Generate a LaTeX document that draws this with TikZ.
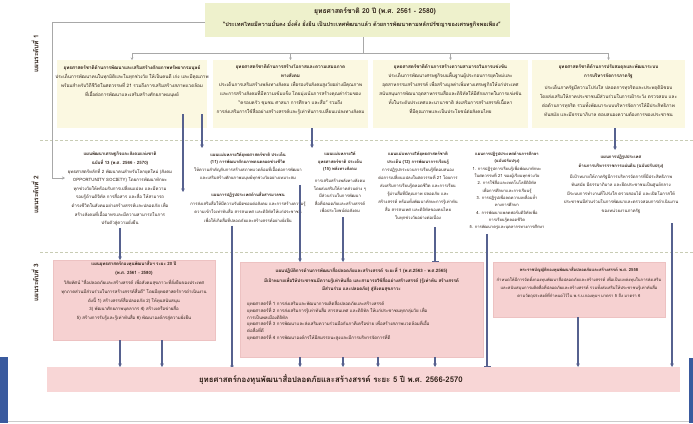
\documentclass[tikz,border=0pt]{standalone}
\usepackage{fontspec}
\setmainfont[Script=Thai]{Loma}
\usetikzlibrary{arrows.meta}
\definecolor{topfill}{HTML}{EEF1CC}
\definecolor{ylfill}{HTML}{FBF8E1}
\definecolor{pkfill}{HTML}{F6D1D1}
\definecolor{pkedge}{HTML}{EDC2C2}
\definecolor{botfill}{HTML}{F8D6D6}
\definecolor{conc}{HTML}{56618F}
\definecolor{grayc}{HTML}{A8A8A8}
\definecolor{sepc}{HTML}{C8CCB4}
\definecolor{ink}{HTML}{2A1C13}
\definecolor{bluebar}{HTML}{3A5A9E}
\begin{document}
\begin{tikzpicture}[x=1pt,y=-1pt,
  box/.style={inner sep=0, outer sep=0},
  ybox/.style={box, fill=ylfill},
  pbox/.style={box, fill=pkfill, draw=pkedge, line width=0.6pt},
  tx/.style={inner sep=0, align=center, text=ink, font=\fontsize{4.6}{9}\selectfont},
  txl/.style={inner sep=0, align=left, text=ink, font=\fontsize{4.4}{6.7}\selectfont},
  lvl/.style={inner sep=0, rotate=90, text=ink, font=\bfseries\fontsize{6.5}{7}\selectfont},
  conn/.style={draw=conc, line width=1.1pt},
  arr/.style={conn, -{Stealth[length=3.5pt,width=3.5pt]}},
  bar/.style={conn, -{Bar[width=7pt,line width=1.1pt]}},
  gline/.style={draw=grayc, line width=0.8pt},
  sep/.style={draw=sepc, line width=0.8pt, dash pattern=on 3pt off 2pt}
]
\useasboundingbox (0,0) rectangle (693,423);
\fill[white] (0,0) rectangle (693,423);

% frame bars
\fill[bluebar] (0,357) rectangle (8,423);
\fill[bluebar] (689,358) rectangle (693,423);
\draw[draw=grayc!60, line width=0.6pt] (8,421) -- (689,421);

% level labels
\node[lvl] (L1) at (35,54) {แผนระดับที่ 1};
\node[lvl] (L2) at (35,195) {แผนระดับที่ 2};
\node[lvl] (L3) at (35,283) {แผนระดับที่ 3};

% separators
\draw[sep] (40,140) -- (693,140);
\draw[sep] (40,252) -- (693,252);

% top box
\node[box, fill=topfill, minimum width=305pt, minimum height=34pt] (top) at (357.5,20) {};
\node[tx, anchor=north, font=\bfseries\fontsize{6.8}{8}\selectfont] (topt) at (375,7)
 {ยุทธศาสตร์ชาติ 20 ปี (พ.ศ. 2561 - 2580)};
\node[tx, anchor=north, font=\bfseries\fontsize{5.6}{8}\selectfont] (tops) at (362,21)
 {“ประเทศไทยมีความมั่นคง มั่งคั่ง ยั่งยืน เป็นประเทศพัฒนาแล้ว ด้วยการพัฒนาตามหลักปรัชญาของเศรษฐกิจพอเพียง”};

% level 1 boxes
\node[ybox, minimum width=150pt, minimum height=68pt] (b1) at (132,94) {};
\node[ybox, minimum width=155pt, minimum height=68pt] (b2) at (290.5,94) {};
\node[ybox, minimum width=155pt, minimum height=68pt] (b3) at (450.5,94) {};
\node[ybox, minimum width=153pt, minimum height=68pt] (b4) at (608.5,94) {};

\node[tx, anchor=north] (b1t) at (132,65)
 {\textbf{ยุทธศาสตร์ชาติด้านการพัฒนาและเสริมสร้างศักยภาพทรัพยากรมนุษย์}\\
  ประเด็นการพัฒนาคนในทุกมิติและในทุกช่วงวัย ให้เป็นคนดี เก่ง และมีคุณภาพ\\
  พร้อมสำหรับวิถีชีวิตในศตวรรษที่ 21 รวมถึงการเสริมสร้างสภาพแวดล้อม\\
  ที่เอื้อต่อการพัฒนาและเสริมสร้างศักยภาพมนุษย์};
\node[tx, anchor=north] (b2t) at (290.5,64)
 {\textbf{ยุทธศาสตร์ชาติด้านการสร้างโอกาสและความเสมอภาค}\\
  \textbf{ทางสังคม}\\
  ประเด็นการเสริมสร้างพลังทางสังคม เพื่อรองรับสังคมสูงวัยอย่างมีคุณภาพ\\
  และการสร้างสังคมที่มีความเข้มแข็ง โดยมุ่งเน้นการสร้างคุณค่าร่วมของ\\
  “ครอบครัว ชุมชน ศาสนา การศึกษา และสื่อ” รวมถึง\\
  การส่งเสริมการใช้สื่ออย่างสร้างสรรค์และรู้เท่าทันการเปลี่ยนแปลงทางสังคม};
\node[tx, anchor=north] (b3t) at (450.5,64)
 {\textbf{ยุทธศาสตร์ชาติด้านการสร้างความสามารถในการแข่งขัน}\\
  ประเด็นการพัฒนาเศรษฐกิจบนพื้นฐานผู้ประกอบการยุคใหม่และ\\
  อุตสาหกรรมสร้างสรรค์ เพื่อสร้างมูลค่าเพิ่มทางเศรษฐกิจให้แก่ประเทศ\\
  สนับสนุนการพัฒนาอุตสาหกรรมสื่อและดิจิทัลให้มีศักยภาพในการแข่งขัน\\
  ทั้งในระดับประเทศและนานาชาติ ส่งเสริมการสร้างสรรค์เนื้อหา\\
  ที่มีคุณภาพและเป็นประโยชน์ต่อสังคมไทย};
\node[tx, anchor=north] (b4t) at (608.5,64)
 {\textbf{ยุทธศาสตร์ชาติด้านการปรับสมดุลและพัฒนาระบบ}\\
  \textbf{การบริหารจัดการภาครัฐ}\\[3pt]
  ประเด็นภาครัฐมีความโปร่งใส ปลอดการทุจริตและประพฤติมิชอบ\\
  โดยส่งเสริมให้ภาคประชาชนมีส่วนร่วมในการเฝ้าระวัง ตรวจสอบ และ\\
  ต่อต้านการทุจริต รวมทั้งพัฒนาระบบบริหารจัดการให้มีประสิทธิภาพ\\
  ทันสมัย และมีธรรมาภิบาล ตอบสนองความต้องการของประชาชน};

% level 2 texts
\node[tx, anchor=north, font=\fontsize{4.4}{8.6}\selectfont] (r21) at (120,152)
 {\textbf{แผนพัฒนาเศรษฐกิจและสังคมแห่งชาติ}\\
  \textbf{ฉบับที่ 13 (พ.ศ. 2566 - 2570)}\\
  ยุทธศาสตร์หลักที่ 2 พัฒนาคนสำหรับโลกยุคใหม่ (สังคม\\
  OPPORTUNITY SOCIETY) โดยการพัฒนาทักษะ\\
  ทุกช่วงวัยให้พร้อมรับการเปลี่ยนแปลง และมีความ\\
  รอบรู้ด้านดิจิทัล การสื่อสาร และสื่อ ให้สามารถ\\
  ดำรงชีวิตในสังคมอย่างสร้างสรรค์และปลอดภัย เพื่อ\\
  สร้างสังคมที่เอื้ออาทรและมีความสามารถในการ\\
  ปรับตัวสู่ความยั่งยืน};
\node[tx, anchor=north, font=\fontsize{4.2}{7.8}\selectfont] (r22a) at (248,152)
 {\textbf{แผนแม่บทภายใต้ยุทธศาสตร์ชาติ ประเด็น}\\
  \textbf{(11) การพัฒนาศักยภาพคนตลอดช่วงชีวิต}\\
  ให้ความสำคัญกับการสร้างสภาพแวดล้อมที่เอื้อต่อการพัฒนา\\
  และเสริมสร้างศักยภาพมนุษย์ทุกช่วงวัยอย่างเหมาะสม};
\node[tx, anchor=north, font=\fontsize{4.2}{8.6}\selectfont] (r22b) at (248,192)
 {\textbf{แผนการปฏิรูปประเทศด้านสื่อสารมวลชน}\\
  การส่งเสริมสื่อให้มีความรับผิดชอบต่อสังคม และการสร้างความรู้\\
  ความเข้าใจเท่าทันสื่อ สารสนเทศ และดิจิทัลให้แก่ประชาชน\\
  เพื่อให้เกิดสื่อที่ปลอดภัยและสร้างสรรค์อย่างยั่งยืน};
\node[tx, anchor=north, font=\fontsize{4.2}{7.6}\selectfont] (r23) at (340,152)
 {\textbf{แผนแม่บทภายใต้}\\
  \textbf{ยุทธศาสตร์ชาติ ประเด็น}\\
  \textbf{(15) พลังทางสังคม}\\[4pt]
  การเสริมสร้างพลังทางสังคม\\
  โดยส่งเสริมให้ภาคส่วนต่าง ๆ\\
  มีส่วนร่วมในการพัฒนา\\
  สื่อที่ปลอดภัยและสร้างสรรค์\\
  เพื่อประโยชน์ต่อสังคม};
\node[tx, anchor=north, font=\fontsize{4.2}{8}\selectfont] (r24) at (418,152)
 {\textbf{แผนแม่บทภายใต้ยุทธศาสตร์ชาติ}\\
  \textbf{ประเด็น (12) การพัฒนาการเรียนรู้}\\
  การปฏิรูปกระบวนการเรียนรู้ที่ตอบสนอง\\
  ต่อการเปลี่ยนแปลงในศตวรรษที่ 21 โดยการ\\
  ส่งเสริมการเรียนรู้ตลอดชีวิต และการเรียน\\
  รู้ผ่านสื่อที่มีคุณภาพ ปลอดภัย และ\\
  สร้างสรรค์ พร้อมทั้งพัฒนาทักษะการรู้เท่าทัน\\
  สื่อ สารสนเทศ และดิจิทัลของคนไทย\\
  ในทุกช่วงวัยอย่างต่อเนื่อง};
\node[tx, anchor=north, font=\fontsize{4.1}{7.3}\selectfont] (r25) at (507,152)
 {\textbf{แผนการปฏิรูปประเทศด้านการศึกษา}\\
  \textbf{(ฉบับปรับปรุง)}\\
  1. การปฏิรูปการเรียนรู้เพื่อพัฒนาทักษะ\\
  ในศตวรรษที่ 21 ของผู้เรียนทุกช่วงวัย\\
  2. การใช้สื่อและเทคโนโลยีดิจิทัล\\
  เพื่อการศึกษาและการเรียนรู้\\
  3. การปฏิรูปเพื่อลดความเหลื่อมล้ำ\\
  ทางการศึกษา\\
  4. การพัฒนาแพลตฟอร์มดิจิทัลเพื่อ\\
  การเรียนรู้ตลอดชีวิต\\
  5. การพัฒนาครูและบุคลากรทางการศึกษา};
\node[tx, anchor=north, font=\fontsize{4.3}{8.4}\selectfont] (r26) at (621,155)
 {\textbf{แผนการปฏิรูปประเทศ}\\
  \textbf{ด้านการบริหารราชการแผ่นดิน (ฉบับปรับปรุง)}\\[3pt]
  มีเป้าหมายให้ภาครัฐมีการบริหารจัดการที่มีประสิทธิภาพ\\
  ทันสมัย มีธรรมาภิบาล และยึดประชาชนเป็นศูนย์กลาง\\
  มีระบบการทำงานที่โปร่งใส ตรวจสอบได้ และเปิดโอกาสให้\\
  ประชาชนมีส่วนร่วมในการพัฒนาและตรวจสอบการดำเนินงาน\\
  ของหน่วยงานภาครัฐ};

% level 3 boxes
\node[pbox, minimum width=162pt, minimum height=80pt] (r31) at (134,300) {};
\node[pbox, minimum width=243pt, minimum height=95pt] (r32) at (361.5,309.5) {};
\node[pbox, minimum width=172pt, minimum height=55pt] (r33) at (579,289.5) {};
\node[box, fill=botfill, minimum width=633pt, minimum height=25pt] (bot) at (363.5,379.5) {};

\node[tx, anchor=north, font=\fontsize{4.4}{8.6}\selectfont] (r31t) at (134,261)
 {\textbf{แผนยุทธศาสตร์กองทุนพัฒนาสื่อฯ ระยะ 20 ปี}\\
  \textbf{(พ.ศ. 2561 - 2580)}\\[2pt]
  วิสัยทัศน์ “สื่อปลอดภัยและสร้างสรรค์ เพื่อสังคมสุขภาวะที่ยั่งยืนของประเทศ\\
  ทุกภาคส่วนมีส่วนร่วมในการสร้างสรรค์สื่อดี” โดยมียุทธศาสตร์การดำเนินงาน\\
  ดังนี้ 1) สร้างสรรค์สื่อปลอดภัย 2) ให้ทุนสนับสนุน\\
  3) พัฒนาศักยภาพบุคลากร 4) สร้างเครือข่ายสื่อ\\
  5) สร้างการรับรู้และรู้เท่าทันสื่อ 6) พัฒนาองค์กรสู่ความยั่งยืน};
\node[tx, anchor=north, font=\fontsize{4.5}{8}\selectfont] (r32t) at (361.5,268)
 {\textbf{แผนปฏิบัติการด้านการพัฒนาสื่อปลอดภัยและสร้างสรรค์ ระยะที่ 1 (พ.ศ.2563 - พ.ศ.2565)}\\[2pt]
  \textbf{มีเป้าหมายเพื่อให้ประชาชนมีความรู้เท่าทันสื่อ และสามารถใช้สื่ออย่างสร้างสรรค์ (รู้เท่าทัน สร้างสรรค์}\\
  \textbf{มีส่วนร่วม และปลอดภัย) สู่สังคมสุขภาวะ}};
\node[txl, anchor=north west] (r32i) at (247,301)
 {ยุทธศาสตร์ที่ 1 การส่งเสริมและพัฒนาการผลิตสื่อปลอดภัยและสร้างสรรค์\\
  ยุทธศาสตร์ที่ 2 การส่งเสริมการรู้เท่าทันสื่อ สารสนเทศ และดิจิทัล ให้แก่ประชาชนทุกกลุ่มวัย เพื่อ\\
  การเป็นพลเมืองดิจิทัล\\
  ยุทธศาสตร์ที่ 3 การพัฒนาและส่งเสริมความร่วมมือกับภาคีเครือข่าย เพื่อสร้างสภาพแวดล้อมที่เอื้อ\\
  ต่อสื่อที่ดี\\
  ยุทธศาสตร์ที่ 4 การพัฒนาองค์กรให้มีสมรรถนะสูงและมีการบริหารจัดการที่ดี};
\node[tx, anchor=north, font=\fontsize{4.15}{8}\selectfont] (r33t) at (579,267)
 {\textbf{พระราชบัญญัติกองทุนพัฒนาสื่อปลอดภัยและสร้างสรรค์ พ.ศ. 2558}\\[2pt]
  กำหนดให้มีการจัดตั้งกองทุนพัฒนาสื่อปลอดภัยและสร้างสรรค์ เพื่อเป็นแหล่งทุนในการส่งเสริม\\
  และสนับสนุนการผลิตสื่อที่ปลอดภัยและสร้างสรรค์ รวมทั้งส่งเสริมให้ประชาชนรู้เท่าทันสื่อ\\
  ตามวัตถุประสงค์ที่กำหนดไว้ใน พ.ร.บ.กองทุนฯ มาตรา 5 ถึง มาตรา 6};
\node[tx, font=\bfseries\fontsize{7.8}{9}\selectfont] (bott) at (331,380)
 {ยุทธศาสตร์กองทุนพัฒนาสื่อปลอดภัยและสร้างสรรค์ ระยะ 5 ปี พ.ศ. 2566-2570};

% ---- connectors, level 1
\draw[gline] (top.south -| 363,0) -- (363,53);
\draw[gline] (b1.north |- 0,53) -- (b4.north |- 0,53);
\foreach \b in {b1,b2,b3,b4} \draw[gline,-{Stealth[length=2.5pt,width=2.5pt]}] (\b.north |- 0,53) -- (\b.north);
\coordinate (brkend) at (65,178);
\draw[gline,-{Stealth[length=3pt,width=3pt]}] (top.west |- 0,22) -- (52,22) -- (52,178) -- (brkend);

% level 1 -> level 2
\coordinate (c183) at (183,192);
\draw[arr] (b1.south -| 183,0) ++(0,-14) -- (c183);
\draw[arr] (b1.south -| 202,0) ++(0,-14) -- (202,148);
\draw[arr] (b2.south -| 312,0) -- (312,148);
\draw[arr] (b4.south -| 615,0) -- (615,150);

% level 2 -> level 3
\draw[arr] (r21.south -| 120,0) ++(0,2) -- (r31.north -| 120,0);
\draw[arr] (r22b.south -| 232,0) ++(0,3) -- (bot.north -| 232,0) ++(0,-4);
\draw[arr] (r22a.south -| 300,0) ++(0,4) -- (r32.north -| 300,0);
\draw[arr] (r23.south -| 343,0) ++(0,4) -- (r32.north -| 343,0);
\draw[bar] (r24.south -| 435,0) ++(0,6) -- (r32.north -| 435,0);
\draw[bar] (r25.south -| 487,0) ++(0,4) -- (bot.north -| 487,0);
\draw[arr] (r26.south -| 672,0) ++(0,10) -- (bot.north -| 672,0);

% level 3 -> bottom
\draw[arr] (r31.south -| 120,0) -- (bot.north -| 120,0);
\draw[arr] (r31.south -| 162,0) -- (bot.north -| 162,0);
\foreach \xx in {300,343,378,435} \draw[arr] (r32.south -| \xx,0) -- (bot.north -| \xx,0);
\draw[arr] (r33.south -| 578,0) -- (bot.north -| 578,0);
\end{tikzpicture}
\end{document}
